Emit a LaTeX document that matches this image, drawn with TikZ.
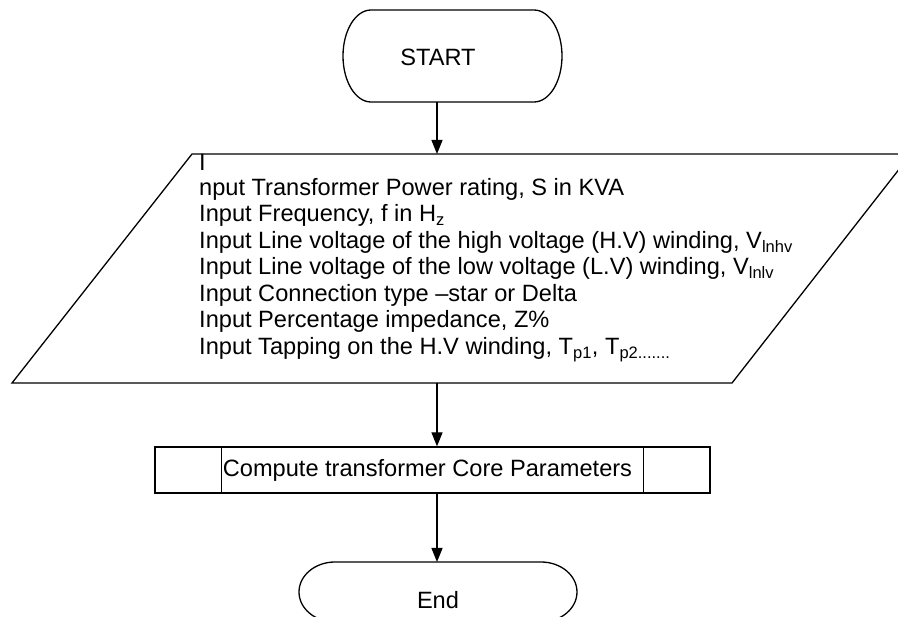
\documentclass[tikz,border=0pt]{standalone}
\usepackage{fontspec}
\setmainfont{Liberation Sans}
\usetikzlibrary{arrows.meta, positioning}

\begin{document}
\begin{tikzpicture}[x=1pt, y=-1pt,
line/.style={line width=1.3pt, black}, arr/.style={-{Triangle[length=14pt,width=11pt]}, line
width=1.3pt, black}, lbl/.style={inner sep=0pt, font=\fontsize{23.6}{26.5}\selectfont},
proc/.style={rectangle, draw, line width=1.3pt, minimum width=555pt, minimum height=46pt, inner
sep=0pt, font=\fontsize{23.6}{26.5}\selectfont} ]
\useasboundingbox (0,0) rectangle (898,617);
\clip (0,0) rectangle (898,617);
\fill[white] (0,0) rectangle (898,617);
% start terminal
\draw[line] (371,10) -- (534,10) arc[start angle=90, end angle=-90, x radius=28pt, y radius=46pt]
-- (371,102) arc[start angle=270, end angle=90, x radius=28pt, y radius=46pt] -- cycle;
\node[lbl] (start) at (438,57) {START};
\coordinate (startBot) at (437,102);
\coordinate (inTop) at (437,154);
\draw[arr] (startBot) -- (inTop);
% input data
\draw[line] (192,154) -- (911,154) -- (732,383) -- (12,383) -- cycle;
\node[lbl, anchor=north west] (inI) at (199,154) {I};
\node[lbl, anchor=north west, align=left] (inp) at (199,178)
{nput Transformer Power rating, S in KVA\\
Input Frequency, f in H\textsubscript{z}\\
Input Line voltage of the high voltage (H.V) winding, V\textsubscript{lnhv}\\
Input Line voltage of the low voltage (L.V) winding, V\textsubscript{lnlv}\\
Input Connection type --star or Delta\\
Input Percentage impedance, Z\%\\
Input Tapping on the H.V winding, T\textsubscript{p1}, T\textsubscript{p2.......}};
\coordinate (inBot) at (437,383);
% core parameters
\node[proc] (core) at (432.5,470) {\hspace*{-10pt}Compute transformer Core Parameters};
\draw[line] ([xshift=67pt]core.north west) -- ([xshift=67pt]core.south west);
\draw[line] ([xshift=-67pt]core.north east) -- ([xshift=-67pt]core.south east);
\draw[arr] (inBot) -- (inBot |- core.north);
% end terminal
\coordinate (endTop) at (437,562);
\draw[arr] (inBot |- core.south) -- (endTop);
\draw[line] (335,562) -- (541,562) arc[start angle=90, end angle=-90, x radius=36pt, y radius=30pt]
-- (335,622) arc[start angle=270, end angle=90, x radius=36pt, y radius=30pt] -- cycle;
\node[lbl] (stop) at (438,600) {End};
\end{tikzpicture}
\end{document}
